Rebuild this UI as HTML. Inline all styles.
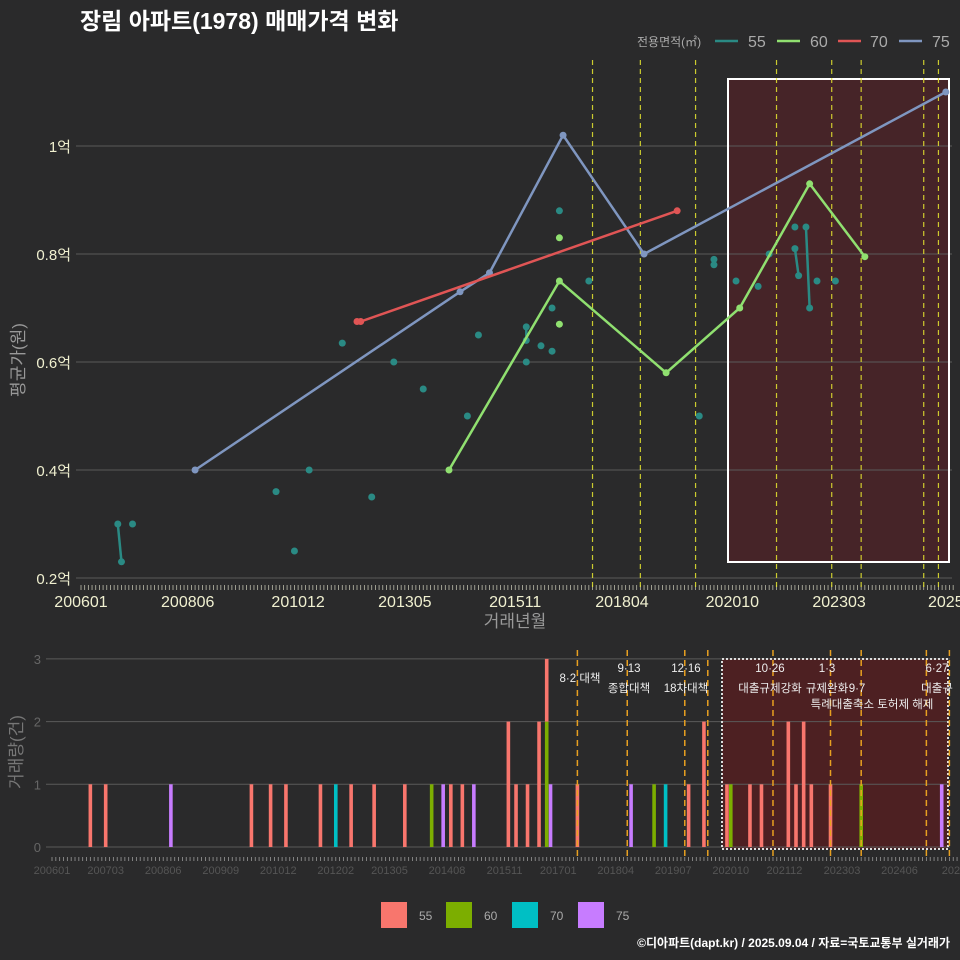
<!DOCTYPE html>
<html><head><meta charset="utf-8">
<style>
html,body{margin:0;padding:0;background:#2a2a2b;}
svg{display:block;font-family:"Liberation Sans","Noto Sans CJK KR",sans-serif;}
</style></head>
<body>
<svg id="c" width="960" height="960" viewBox="0 0 960 960">
<rect width="960" height="960" fill="#2a2a2b"/>
<text x="80" y="29" font-size="23" font-weight="bold" fill="#ffffff">장림 아파트(1978) 매매가격 변화</text>
<g id="topchart"></g>
<g id="bot"></g>
<g>
<text x="637" y="46" font-size="12" fill="#aaaaaa">전용면적(㎡)</text>
<line x1="715" y1="41" x2="738" y2="41" stroke="#2a8a84" stroke-width="2.5"/>
<text x="748" y="47" font-size="16" fill="#aaaaaa">55</text>
<line x1="777" y1="41" x2="800" y2="41" stroke="#90e070" stroke-width="2.5"/>
<text x="810" y="47" font-size="16" fill="#aaaaaa">60</text>
<line x1="838" y1="41" x2="861" y2="41" stroke="#e05555" stroke-width="2.5"/>
<text x="870" y="47" font-size="16" fill="#aaaaaa">70</text>
<line x1="899" y1="41" x2="922" y2="41" stroke="#7f96c0" stroke-width="2.5"/>
<text x="932" y="47" font-size="16" fill="#aaaaaa">75</text>
</g>
<g>
<rect x="381" y="902" width="26" height="26" fill="#f8766d"/>
<text x="419" y="920" font-size="12" fill="#aaaaaa">55</text>
<rect x="446" y="902" width="26" height="26" fill="#7cae00"/>
<text x="484" y="920" font-size="12" fill="#aaaaaa">60</text>
<rect x="512" y="902" width="26" height="26" fill="#00bfc4"/>
<text x="550" y="920" font-size="12" fill="#aaaaaa">70</text>
<rect x="578" y="902" width="26" height="26" fill="#c77cff"/>
<text x="616" y="920" font-size="12" fill="#aaaaaa">75</text>
</g>
<text x="950" y="947" font-size="12" font-weight="bold" fill="#ffffff" text-anchor="end">©디아파트(dapt.kr) / 2025.09.04 / 자료=국토교통부 실거래가</text>
</svg>
<script>
// months since 2006-01
const s55Month = [10,11,14,53,58,62,71,79,85,93,105,108,121,121,121,125,128,128,130,138,168,172,172,178,184,187,194,194,195,197,198,200,205];
const s55Value = [0.3,0.23,0.3,0.36,0.25,0.4,0.635,0.35,0.6,0.55,0.5,0.65,0.665,0.64,0.6,0.63,0.7,0.62,0.88,0.75,0.5,0.79,0.78,0.75,0.74,0.8,0.85,0.81,0.76,0.85,0.7,0.75,0.75];
const s55Segments = [[0,1],[12,13],[27,28],[29,30]];
const s60Month = [100,130,159,179,198,213];
const s60Value = [0.4,0.75,0.58,0.7,0.93,0.795];
const s60ExtraMonth = [130,130];
const s60ExtraValue = [0.83,0.67];
const s70Month = [75,76,162];
const s70Value = [0.675,0.675,0.88];
const s75Month = [31,103,111,131,153,235];
const s75Value = [0.4,0.73,0.765,1.02,0.8,1.1];
const yTicks = [0.2,0.4,0.6,0.8,1.0];
const yTickLabels = ["0.2억","0.4억","0.6억","0.8억","1억"];
const xTickMonths = [0,29,59,88,118,147,177,206,235];
const xTickLabels = ["200601","200806","201012","201305","201511","201804","202010","202303","2025"];
const policyMonths = [139,152,167,189,204,212,229,233];
// volume bars
const barMonth = [10,14,31,52,57,61,70,74,78,84,92,99,102,104,107,110,119,121,124,127,129,129,130,137,151,157,160,166,170,176,177,182,185,192,194,196,198,203,211,232];
const barSeries = ["55","55","75","55","55","55","55","70","55","55","55","60","75","55","55","75","55","55","55","55","60","55","75","55","75","60","70","55","55","55","60","55","55","55","55","55","55","55","60","75"];
const barCount = [1,1,1,1,1,1,1,1,1,1,1,1,1,1,1,1,2,1,1,2,2,1,1,1,1,1,1,1,2,1,1,1,1,2,1,2,1,1,1,1];
const bTicks = [0,1,2,3];
const bxTickMonths = [0,14,29,44,59,74,88,103,118,132,147,162,177,191,206,221,236];
const bxTickLabels = ["200601","200703","200806","200909","201012","201202","201305","201408","201511","201701","201804","201907","202010","202112","202303","202406","20250"];
const bPolicyMonths = [137,150,165,171,188,203,211,228,234];

const NS="http://www.w3.org/2000/svg";
function mk(parent,tag,attrs,text){const e=document.createElementNS(NS,tag);for(const k in attrs)e.setAttribute(k,attrs[k]);if(text!==undefined)e.textContent=text;parent.appendChild(e);return e;}
const X=m=>81+m*3.68;
const Y=v=>578-(v-0.2)*540;
const topG=document.getElementById('topchart');

let e=mk(topG,'rect',{x:728,y:79,width:221,height:483,fill:'#5a2226',opacity:0.6});


yTicks.forEach((t,i)=>{
  let g=mk(topG,'line',{x1:76,x2:952,y1:Y(t),y2:Y(t),stroke:'#5a5a5a','stroke-width':1});
  
  
  let l=mk(topG,'text',{x:71,y:Y(t)+6,'text-anchor':'end','font-size':15,fill:'#f0f0d0'},yTickLabels[i]);
  
  
});
e=mk(topG,'rect',{x:728,y:79,width:221,height:483,fill:'none',stroke:'#ffffff','stroke-width':2});


for(let m=0;m<=237;m++){
  let t=mk(topG,'line',{x1:X(m),x2:X(m),y1:585,y2:590,stroke:'#bbbbaa','stroke-width':0.8});
  
  
}
xTickMonths.forEach((m,i)=>{
  let l=mk(topG,'text',{x:X(m),y:607,'text-anchor':'middle','font-size':16,fill:'#f0f0d0'},xTickLabels[i]);
  
  
});
policyMonths.forEach(m=>{
  let d=mk(topG,'line',{x1:X(m),x2:X(m),y1:60,y2:590,stroke:'#e8e830','stroke-width':1.2,'stroke-dasharray':'5,4',opacity:0.85});
  
  
});
e=mk(topG,'text',{x:515,y:627,'text-anchor':'middle','font-size':17,fill:'#999999'},'거래년월');


e=mk(topG,'text',{x:24,y:360,'text-anchor':'middle','font-size':17,fill:'#999999',transform:'rotate(-90 24 360)'},'평균가(원)');



function series(ms,vs,color,name){
  const pts=ms.map((m,i)=>X(m)+','+Y(vs[i])).join(' ');
  let p=mk(topG,'polyline',{points:pts,fill:'none',stroke:color,'stroke-width':2.5});
  
  
  ms.forEach((m,i)=>{
    let c=mk(topG,'circle',{cx:X(m),cy:Y(vs[i]),r:3.5,fill:color});
    
    
  });
}
s55Segments.forEach(s=>{
  let l=mk(topG,'line',{x1:X(s55Month[s[0]]),y1:Y(s55Value[s[0]]),x2:X(s55Month[s[1]]),y2:Y(s55Value[s[1]]),stroke:'#2a8a84','stroke-width':2.5});
  
  
});
s55Month.forEach((m,i)=>{
  let c=mk(topG,'circle',{cx:X(m),cy:Y(s55Value[i]),r:3.5,fill:'#2a8a84'});
  
  
});
series(s75Month,s75Value,'#7f96c0','75');
series(s70Month,s70Value,'#e05555','70');
series(s60Month,s60Value,'#90e070','60');
s60ExtraMonth.forEach((m,i)=>{
  let c=mk(topG,'circle',{cx:X(m),cy:Y(s60ExtraValue[i]),r:3.5,fill:'#90e070'});
  
  
});

const bot=document.getElementById('bot');
const BX=m=>52+m*3.835;
const BY=v=>847-v*62.7;
const colors={"55":"#f8766d","60":"#7cae00","70":"#00bfc4","75":"#c77cff"};
e=mk(bot,'rect',{x:722,y:659,width:226,height:190,fill:'#5a1e20',opacity:0.75});


bTicks.forEach(t=>{
  let g=mk(bot,'line',{x1:46,x2:950,y1:BY(t),y2:BY(t),stroke:'#5a5a5a','stroke-width':1});
  
  
  let l=mk(bot,'text',{x:41,y:BY(t)+5,'text-anchor':'end','font-size':13,fill:'#666666'},String(t));
  
  
});
const stackBase={};
barMonth.forEach((m,i)=>{
  const base=stackBase[m]||0;
  const c=barCount[i];
  let r=mk(bot,'rect',{x:BX(m)-1.8,y:BY(base+c),width:3.6,height:BY(base)-BY(base+c),fill:colors[barSeries[i]]});
  
  
  stackBase[m]=base+c;
});
e=mk(bot,'rect',{x:722,y:659,width:226,height:190,fill:'none',stroke:'#dddddd','stroke-width':2,'stroke-dasharray':'2,2'});


for(let m=0;m<=237;m++){
  let t=mk(bot,'line',{x1:BX(m),x2:BX(m),y1:857,y2:861,stroke:'#999999','stroke-width':0.8});
  
  
}
bxTickMonths.forEach((m,i)=>{
  let l=mk(bot,'text',{x:BX(m),y:874,'text-anchor':'middle','font-size':11,fill:'#555555'},bxTickLabels[i]);
  
  
});
bPolicyMonths.forEach(m=>{
  let d=mk(bot,'line',{x1:BX(m),x2:BX(m),y1:650,y2:858,stroke:'#e8a020','stroke-width':1.5,'stroke-dasharray':'6,4'});
  
  
});
const notes=[[580,682,"8·2 대책"],[629,672,"9·13"],[629,692,"종합대책"],[686,672,"12·16"],[686,692,"18차대책"],[770,672,"10·26"],[770,692,"대출규제강화"],[827,672,"1·3"],[827,692,"규제완화"],[857,692,"9·7"],[872,708,"특례대출축소 토허제 해제"],[937,672,"6·27"],[937,692,"대출규"]];
notes.forEach(n=>{
  let t=mk(bot,'text',{x:n[0],y:n[1],'text-anchor':'middle','font-size':11.5,fill:'#eeeeee'},n[2]);
  
  
});
e=mk(bot,'text',{x:22,y:752,'text-anchor':'middle','font-size':17,fill:'#777777',transform:'rotate(-90 22 752)'},'거래량(건)');


</script>
</body></html>
